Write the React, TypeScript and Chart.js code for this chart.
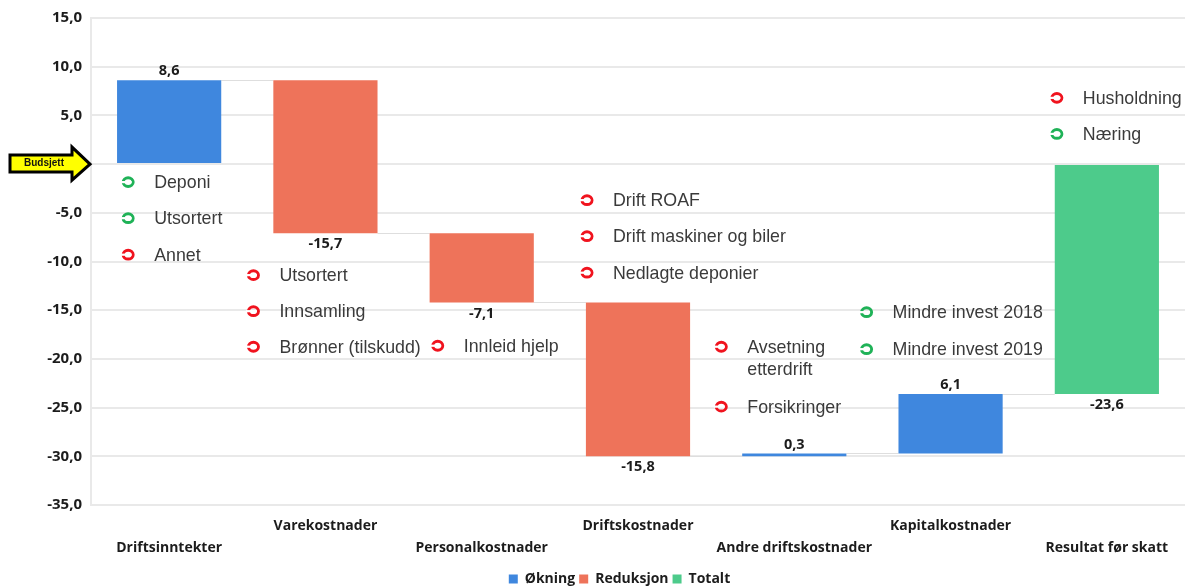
import React, { useEffect, useRef } from "react";
import { Chart, registerables } from "chart.js";

Chart.register(...registerables);

const categories = ["Driftsinntekter", "Varekostnader", "Personalkostnader", "Driftskostnader", "Andre driftskostnader", "Kapitalkostnader", "Resultat før skatt"];
const barStart = [0, 8.6, -7.1, -14.2, -30, -29.7, -23.6];
const barEnd = [8.6, -7.1, -14.2, -30, -29.7, -23.6, 0];
const valueLabels = ["8,6", "-15,7", "-7,1", "-15,8", "0,3", "6,1", "-23,6"];
const okningIdx = [0, 4, 5];
const reduksjonIdx = [1, 2, 3];
const totaltIdx = [6];

const noteTexts = ["Deponi", "Utsortert", "Annet", "Utsortert", "Innsamling", "Brønner (tilskudd)", "Innleid hjelp", "Drift ROAF", "Drift maskiner og biler", "Nedlagte deponier", "Avsetning", "Forsikringer", "Mindre invest 2018", "Mindre invest 2019", "Husholdning", "Næring"];
const noteCategory = [0, 0, 0, 1, 1, 1, 2, 3, 3, 3, 4, 4, 5, 5, 6, 6];
const noteValue = [-1.85, -5.55, -9.3, -11.4, -15.1, -18.75, -18.65, -3.7, -7.4, -11.15, -18.75, -24.9, -15.2, -19, 6.8, 3.1];
const noteUp = [true, true, false, false, false, false, false, false, false, false, false, false, true, true, false, true];
const noteIconOffset = [-41, -41, -41, -72, -72, -72, -44, -51, -51, -51, -73, -73, -84, -84, -50, -50];
const extraLine = { text: "etterdrift", category: 4, value: -21, iconOffset: -73 };

const BLUE = "#3F87DE";
const RED = "#EE735A";
const GREEN = "#4DCB8B";
const GRID = "#e9e9e9";
const LABEL = "#1c1c1c";
const LABEL_FONT = "bold 14.5px 'Open Sans'";

const pick = (idx: number[]) => categories.map((_, i) => (idx.includes(i) ? [barStart[i], barEnd[i]] : null));

function drawIcon(ctx: CanvasRenderingContext2D, x: number, y: number, color: string) {
  ctx.save();
  ctx.strokeStyle = color;
  ctx.lineWidth = 3;
  ctx.beginPath();
  ctx.ellipse(x, y, 5, 4.4, 0, 0, Math.PI * 2);
  ctx.stroke();
  ctx.fillStyle = "#fff";
  ctx.fillRect(x - 7.5, y - 1.1, 11, 2.2);
  ctx.restore();
}

const overlay = {
  id: "overlay",
  afterLayout(chart: any) {
    // the legend sits left of the plot centre and close to the page edge in the reference
    chart.legend.left = 54;
    chart.legend.top += 9;
  },
  beforeDatasetsDraw(chart: any) {
    const { ctx, scales } = chart;
    const x = scales.x;
    const y = scales.y;
    const half = (x.getPixelForValue(1) - x.getPixelForValue(0)) / 3;
    ctx.save();
    ctx.strokeStyle = "#dedede";
    ctx.lineWidth = 1;
    for (let i = 0; i < barEnd.length - 1; i++) {
      const py = Math.round(y.getPixelForValue(barEnd[i])) + 0.5;
      ctx.beginPath();
      ctx.moveTo(x.getPixelForValue(i) + half, py);
      ctx.lineTo(x.getPixelForValue(i + 1) - half, py);
      ctx.stroke();
    }
    ctx.restore();
  },
  afterDatasetsDraw(chart: any) {
    const { ctx, scales } = chart;
    const x = scales.x;
    const y = scales.y;
    ctx.save();
    ctx.font = LABEL_FONT;
    ctx.fillStyle = LABEL;
    ctx.textAlign = "center";
    ctx.textBaseline = "middle";
    valueLabels.forEach((t, i) => {
      const up = barEnd[i] >= barStart[i] && i !== 6;
      const edge = up ? Math.max(barStart[i], barEnd[i]) : Math.min(barStart[i], barEnd[i]);
      ctx.fillText(t, x.getPixelForValue(i), y.getPixelForValue(edge) + (up ? -9 : 11));
    });
    ctx.font = "17.8px 'Liberation Sans'";
    ctx.textAlign = "left";
    noteTexts.forEach((t, i) => {
      const cx = x.getPixelForValue(noteCategory[i]) + noteIconOffset[i];
      const cy = y.getPixelForValue(noteValue[i]);
      drawIcon(ctx, cx, cy, noteUp[i] ? "#1FB257" : "#F0131E");
      ctx.fillStyle = "#3a3a3a";
      ctx.fillText(t, cx + 26, cy + 1);
    });
    ctx.fillText(extraLine.text, x.getPixelForValue(extraLine.category) + extraLine.iconOffset + 26, y.getPixelForValue(extraLine.value) + 1);
    const z = y.getPixelForValue(0);
    const tip = x.left - 1;
    ctx.beginPath();
    ctx.moveTo(tip, z);
    ctx.lineTo(tip - 18, z - 17);
    ctx.lineTo(tip - 18, z - 9);
    ctx.lineTo(tip - 80, z - 9);
    ctx.lineTo(tip - 80, z + 8);
    ctx.lineTo(tip - 18, z + 8);
    ctx.lineTo(tip - 18, z + 16);
    ctx.closePath();
    ctx.fillStyle = "#FFFF00";
    ctx.strokeStyle = "#000";
    ctx.lineWidth = 3;
    ctx.lineJoin = "miter";
    ctx.fill();
    ctx.stroke();
    ctx.fillStyle = "#111";
    ctx.font = "bold 10px 'Liberation Sans'";
    ctx.textAlign = "center";
    ctx.fillText("Budsjett", tip - 46, z - 1);
    ctx.restore();
  },
};

export default function App() {
  const ref = useRef<HTMLCanvasElement>(null);
  useEffect(() => {
    const chart = new Chart(ref.current!, {
      type: "bar",
      data: {
        labels: categories.map((c, i) => (i % 2 === 1 ? [c, ""] : ["", c])),
        datasets: [
          { label: "Økning", data: pick(okningIdx), backgroundColor: BLUE },
          { label: "Reduksjon", data: pick(reduksjonIdx), backgroundColor: RED },
          { label: "Totalt", data: pick(totaltIdx), backgroundColor: GREEN },
        ] as any,
      },
      plugins: [overlay],
      options: {
        responsive: false,
        animation: false,
        layout: { padding: { top: 17, left: 0, right: 0, bottom: 0 } },
        datasets: { bar: { grouped: false, barPercentage: 1, categoryPercentage: 2 / 3 } },
        plugins: {
          tooltip: { enabled: false },
          legend: {
            position: "bottom",
            labels: {
              boxWidth: 9,
              boxHeight: 9,
              padding: 4,
              color: LABEL,
              font: { family: "'Open Sans'", size: 14, weight: "bold" },
            },
          },
        },
        scales: {
          x: {
            grid: { display: false },
            border: { color: GRID, width: 2 },
            afterFit: (a: any) => { a.height = 54; },
            ticks: {
              maxRotation: 0,
              minRotation: 0,
              autoSkip: false,
              padding: 2,
              color: LABEL,
              font: { family: "'Open Sans'", size: 14, weight: "bold", lineHeight: 1.57 },
            },
          },
          y: {
            min: -35,
            max: 15,
            afterFit: (a: any) => { a.width = 91; },
            grid: { color: GRID, lineWidth: 2, drawTicks: false },
            border: { color: GRID, width: 2 },
            ticks: {
              stepSize: 5,
              padding: 9,
              color: LABEL,
              font: { family: "'Open Sans'", size: 15, weight: "bold" },
              callback: (v: any) => Number(v).toFixed(1).replace(".", ","),
            },
          },
        },
      } as any,
    });
    return () => chart.destroy();
  }, []);
  return (
    <div style={{ position: "absolute", left: 0, top: 0, width: 1185, height: 587, background: "#fff" }}>
      <canvas ref={ref} width={1185} height={587} style={{ display: "block" }} />
    </div>
  );
}
